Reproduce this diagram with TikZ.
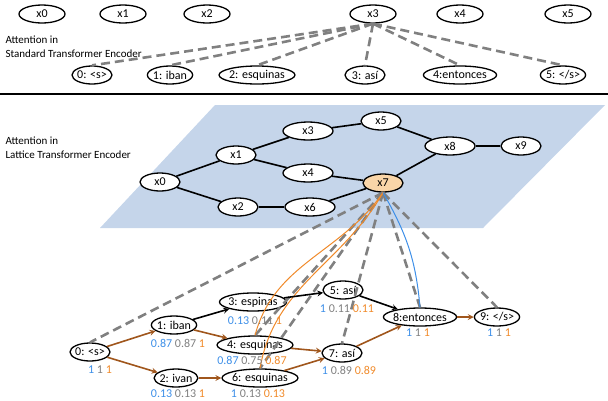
\documentclass[tikz,border=0pt]{standalone}
\usepackage{fontspec}
\setmainfont{Carlito}
\usetikzlibrary{shapes.geometric}
\definecolor{sblue}{HTML}{3D8FE8}
\definecolor{sgray}{HTML}{808080}
\definecolor{sorange}{HTML}{F08A2A}
\definecolor{ebrown}{HTML}{A0561C}
\definecolor{plane}{HTML}{C5D5EA}
\definecolor{hl}{HTML}{F9D5A8}
\newcommand{\scr}[3]{\textcolor{sblue}{#1} \textcolor{sgray}{#2} \textcolor{sorange}{#3}}
\begin{document}
\begin{tikzpicture}[x=1pt,y=-1pt,font=\fontsize{12}{13}\selectfont,
  nd/.style={ellipse,draw,line width=1.3pt,fill=white,minimum width=40pt,minimum height=18pt,inner sep=0.5pt},
  tn/.style={nd,minimum width=46pt},
  ln/.style={nd,inner xsep=-1pt},
  att/.style={line width=2.6pt,draw=gray,dash pattern=on 9pt off 5pt},
  br/.style={->,>=stealth,line width=1.6pt,draw=ebrown},
  bk/.style={->,>=stealth,line width=1.6pt},
  sc/.style={inner sep=0pt}]
\useasboundingbox (0,0) rectangle (608,400);
% standard
\foreach \n/\x in {0/42,1/123,2/207,3/373,4/460,5/568} \node[tn] (t\n) at (\x,14) {x\n};
\node[ln] (b0) at (92,75) {0: <s>};
\node[ln] (b1) at (170,75) {1: iban};
\node[ln] (b2) at (257,75) {2: esquinas};
\node[ln] (b3) at (365,75) {3: así};
\node[ln] (b4) at (460,75) {4:entonces};
\node[ln] (b5) at (563,75) {5: </s>};
\foreach \n in {0,...,5} \draw[att] (t3.south) -- (b\n.north);
\node[align=left,anchor=west,font=\fontsize{11}{14}\selectfont] (l1) at (2,47) {Attention in\\Standard Transformer Encoder};
\draw[line width=1.8pt] (0,94) -- (608,94);
% lattice
\fill[plane] (100,228) -- (215,105) -- (605,105) -- (483,228) -- cycle;
\node[align=left,anchor=west,font=\fontsize{11}{14}\selectfont] (l2) at (2,148) {Attention in\\Lattice Transformer Encoder};
\node[nd] (x0) at (160,182) {x0};
\node[nd] (x1) at (236,155) {x1};
\node[nd] (x2) at (238,207) {x2};
\node[nd,minimum width=50pt] (x3) at (308,131) {x3};
\node[nd,minimum width=50pt] (x4) at (308,173) {x4};
\node[nd] (x5) at (381,121) {x5};
\node[nd,minimum width=50pt] (x6) at (310,207) {x6};
\node[nd,fill=hl] (x7) at (383,183) {x7};
\node[nd,minimum width=50pt] (x8) at (450,146) {x8};
\node[nd] (x9) at (521,146) {x9};
\foreach \a/\b in {x0/x1,x0/x2,x1/x3,x1/x4,x3/x5,x2/x6,x4/x7,x6/x7,x5/x8,x7/x8,x8/x9}
  \draw[line width=1.6pt] (\a) -- (\b);
% word lattice
\node[ln] (w0) at (90,352) {0: <s>};
\node[ln] (w1) at (174,325) {1: iban};
\node[ln] (w2) at (176,378) {2: ivan};
\node[ln] (w3) at (253,302) {3: espinas};
\node[ln] (w4) at (255,345) {4: esquinas};
\node[ln] (w5) at (343,290) {5: así};
\node[ln] (w6) at (260,378) {6: esquinas};
\node[ln] (w7) at (342,353) {7: así};
\node[ln] (w8) at (420,317) {8:entonces};
\node[ln] (w9) at (497,317) {9: </s>};
\foreach \n in {0,4,6,7,8,9} \draw[att] (x7.south) -- (w\n.north);
\draw[sorange,line width=1pt] (x7.south) to[out=235,in=75] (w4.north);
\draw[sorange,line width=1pt] (x7.south) to[out=240,in=80] (w6.north);
\draw[sblue,line width=1pt] (x7.south) to[out=300,in=95] (w8.north);
\foreach \a/\b in {w0/w1,w0/w2,w1/w4,w2/w6,w4/w7,w6/w7,w7/w8,w8/w9} \draw[br] (\a) -- (\b);
\foreach \a/\b in {w1/w3,w3/w5,w5/w8} \draw[bk] (\a) -- (\b);
\node[sc] (s0) at (100,370) {\scr{1}{1}{1}};
\node[sc] (s1) at (178,343) {\scr{0.87}{0.87}{1}};
\node[sc] (s2) at (178,394) {\scr{0.13}{0.13}{1}};
\node[sc] (s3) at (255,321) {\scr{0.13}{0.11}{1}};
\node[sc] (s4) at (252,360) {\scr{0.87}{0.75}{0.87}};
\node[sc] (s5) at (347,309) {\scr{1}{0.11}{0.11}};
\node[sc] (s6) at (258,394) {\scr{1}{0.13}{0.13}};
\node[sc] (s7) at (349,370) {\scr{1}{0.89}{0.89}};
\node[sc] (s8) at (418,333) {\scr{1}{1}{1}};
\node[sc] (s9) at (499,333) {\scr{1}{1}{1}};
\end{tikzpicture}
\end{document}
